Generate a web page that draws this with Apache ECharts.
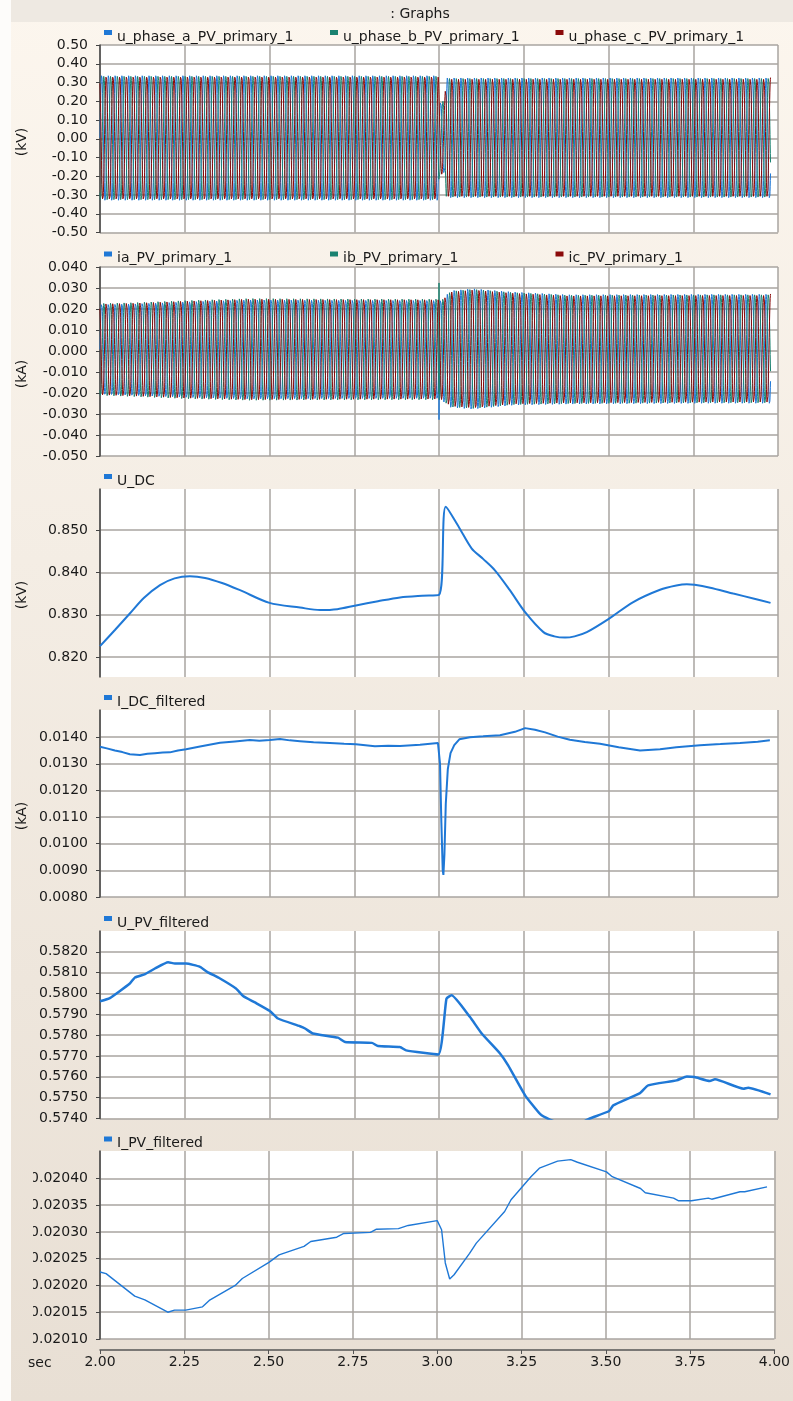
<!DOCTYPE html>
<html>
<head>
<meta charset="utf-8">
<script src="https://cdn.jsdelivr.net/npm/echarts@6/dist/echarts.min.js"></script>
<style>
  html, body { margin: 0; padding: 0; background: #f4ede4; }
  #chart { width: 793px; height: 1401px; }
</style>
</head>
<body>
<div id="chart"></div>
<script>
// ---------------- time axis ----------------
const T_START = 2.0, T_END = 4.0, T_STEP = 0.25;

// ---------------- three-phase voltage (kV): peak envelope ----------------
const F_GRID = 50;          // Hz
const SAMPLE_DT = 0.0005;   // s
const WAVE_END = 3.978;     // s, last recorded sample
const uEnvTime  = [2.000, 2.500, 2.998, 3.002, 3.016, 3.022, 3.500, 3.978];
const uEnvUpper = [0.340, 0.340, 0.340, 0.200, 0.200, 0.328, 0.328, 0.328];
const uEnvLower = [-0.332, -0.332, -0.332, -0.190, -0.190, -0.318, -0.318, -0.318];

// ---------------- three-phase current (kA): peak envelope ----------------
const iEnvTime  = [2.00, 2.10, 2.25, 2.44, 2.70, 2.998, 3.010, 3.035, 3.10, 3.22, 3.38, 3.60, 3.80, 3.978];
const iEnvUpper = [0.0231, 0.0235, 0.0245, 0.0255, 0.0253, 0.0252, 0.0250, 0.0290, 0.0300, 0.0284, 0.0271, 0.0272, 0.0273, 0.0273];
const iEnvLower = [-0.0216, -0.0222, -0.0232, -0.0240, -0.0238, -0.0237, -0.0240, -0.0272, -0.0280, -0.0261, -0.0256, -0.0254, -0.0252, -0.0252];
// switching transient at t = 3.0 s
const iaSpike = [[3.0, -0.0327]];
const ibSpike = [[3.0, 0.0324]];

// ---------------- U_DC (kV) ----------------
const udcTime  = [2.000, 2.044, 2.088, 2.130, 2.177, 2.220, 2.265, 2.310, 2.360, 2.413, 2.500, 2.590, 2.649, 2.700, 2.755, 2.820, 2.885, 2.950, 3.000,
                  3.020, 3.060, 3.096, 3.130, 3.165, 3.209, 3.254, 3.308, 3.340, 3.372, 3.400, 3.436, 3.502, 3.573, 3.652, 3.700, 3.731, 3.754, 3.800, 3.868, 3.930, 3.978];
const udcValue = [0.8226, 0.8264, 0.8303, 0.8340, 0.8370, 0.8386, 0.8391, 0.8387, 0.8375, 0.8358, 0.8328, 0.8317, 0.8311, 0.8313, 0.8322, 0.8332, 0.8341, 0.8345, 0.8347,
                  0.8555, 0.8505, 0.8457, 0.8432, 0.8405, 0.8358, 0.8306, 0.8259, 0.8249, 0.8246, 0.8249, 0.8259, 0.8291, 0.8330, 0.8359, 0.8369, 0.8372, 0.8371, 0.8364, 0.8350, 0.8338, 0.8328];

// ---------------- I_DC_filtered (kA) ----------------
const idcTime  = [2.000, 2.020, 2.044, 2.066, 2.088, 2.118, 2.140, 2.162, 2.185, 2.206, 2.230, 2.254, 2.295, 2.354, 2.398, 2.442, 2.470, 2.501, 2.531, 2.560, 2.590, 2.630, 2.678, 2.720, 2.755, 2.811, 2.850, 2.885, 2.944, 2.997,
                  3.000, 3.003, 3.007, 3.011, 3.013, 3.016, 3.020, 3.026, 3.034, 3.045, 3.060, 3.091, 3.130, 3.180, 3.224, 3.254, 3.283, 3.313, 3.350, 3.386, 3.430, 3.475, 3.530, 3.593, 3.652, 3.700, 3.770, 3.830, 3.888, 3.940, 3.976];
const idcValue = [0.01364, 0.01358, 0.01350, 0.01344, 0.01336, 0.01333, 0.01338, 0.01340, 0.01342, 0.01343, 0.01350, 0.01355, 0.01365, 0.01379, 0.01384, 0.01389, 0.01387, 0.01389, 0.01393, 0.01388, 0.01385, 0.01381, 0.01378, 0.01375, 0.01373, 0.01366, 0.01368, 0.01367, 0.01372, 0.01378,
                  0.01378, 0.01300, 0.01080, 0.00900, 0.00883, 0.00960, 0.01150, 0.01280, 0.01340, 0.01370, 0.01392, 0.01400, 0.01403, 0.01407, 0.01420, 0.01434, 0.01428, 0.01418, 0.01402, 0.01390, 0.01382, 0.01375, 0.01362, 0.01350, 0.01355, 0.01362, 0.01370, 0.01374, 0.01378, 0.01383, 0.01388];

// ---------------- U_PV_filtered (kV) ----------------
const upvTime  = [2.000, 2.029, 2.088, 2.103, 2.133, 2.162, 2.201, 2.221, 2.254, 2.295, 2.316, 2.354, 2.401, 2.422, 2.457, 2.501, 2.525, 2.590, 2.605, 2.628, 2.702, 2.723, 2.802, 2.820, 2.885, 2.903, 2.998,
                  3.022, 3.037, 3.091, 3.126, 3.180, 3.204, 3.254, 3.298, 3.327, 3.370, 3.420, 3.445, 3.502, 3.514, 3.593, 3.617, 3.701, 3.731, 3.754, 3.799, 3.814, 3.898, 3.912, 3.978];
const upvValue = [0.57963, 0.57978, 0.58048, 0.58077, 0.58093, 0.58120, 0.58150, 0.58144, 0.58144, 0.58128, 0.58104, 0.58072, 0.58024, 0.57988, 0.57957, 0.57916, 0.57880, 0.57843, 0.57832, 0.57808, 0.57788, 0.57767, 0.57763, 0.57748, 0.57743, 0.57727, 0.57707,
                  0.57975, 0.57992, 0.57888, 0.57808, 0.57712, 0.57655, 0.57511, 0.57422, 0.57395, 0.57370, 0.57380, 0.57400, 0.57436, 0.57463, 0.57522, 0.57559, 0.57583, 0.57602, 0.57599, 0.57580, 0.57588, 0.57543, 0.57548, 0.57516];

// ---------------- I_PV_filtered (kA) ----------------
const ipvTime  = [2.000, 2.018, 2.103, 2.133, 2.201, 2.221, 2.254, 2.304, 2.324, 2.401, 2.422, 2.501, 2.531, 2.605, 2.625, 2.702, 2.723, 2.802, 2.820, 2.885, 2.914, 3.000,
                  3.013, 3.024, 3.037, 3.050, 3.096, 3.116, 3.200, 3.219, 3.278, 3.303, 3.357, 3.396, 3.416, 3.502, 3.519, 3.603, 3.617, 3.701, 3.716, 3.754, 3.804, 3.814, 3.898, 3.912, 3.978];
const ipvValue = [0.020225, 0.020222, 0.020180, 0.020173, 0.020150, 0.020154, 0.020154, 0.020160, 0.020172, 0.020200, 0.020213, 0.020243, 0.020257, 0.020273, 0.020282, 0.020290, 0.020297, 0.020299, 0.020305, 0.020306, 0.020312, 0.020321,
                  0.020304, 0.020242, 0.020212, 0.020220, 0.020260, 0.020279, 0.020338, 0.020360, 0.020403, 0.020419, 0.020432, 0.020435, 0.020430, 0.020412, 0.020403, 0.020381, 0.020373, 0.020363, 0.020358, 0.020358, 0.020363, 0.020361, 0.020375, 0.020375, 0.020384];

// ---------------- value-axis tick labels ----------------
const yTicksU   = [-0.50, -0.40, -0.30, -0.20, -0.10, 0.00, 0.10, 0.20, 0.30, 0.40, 0.50];
const yTicksI   = [-0.050, -0.040, -0.030, -0.020, -0.010, 0.000, 0.010, 0.020, 0.030, 0.040];
const yTicksUdc = [0.820, 0.830, 0.840, 0.850];
const yTicksIdc = [0.0080, 0.0090, 0.0100, 0.0110, 0.0120, 0.0130, 0.0140];
const yTicksUpv = [0.5740, 0.5750, 0.5760, 0.5770, 0.5780, 0.5790, 0.5800, 0.5810, 0.5820];
const yTicksIpv = [0.02010, 0.02015, 0.02020, 0.02025, 0.02030, 0.02035, 0.02040];

// ---------------- helpers ----------------
function pairs(ts, vs) { return ts.map((t, i) => [t, vs[i]]); }

function envelopeAt(ts, vs, t) {
  if (t <= ts[0]) return vs[0];
  for (let i = 1; i < ts.length; i++) {
    if (t <= ts[i]) {
      const f = (t - ts[i - 1]) / (ts[i] - ts[i - 1]);
      return vs[i - 1] + f * (vs[i] - vs[i - 1]);
    }
  }
  return vs[vs.length - 1];
}

// 50 Hz phase waveform carried inside its measured peak envelope
function phaseWave(envT, envHi, envLo, shiftDeg, extra) {
  const pts = [];
  const n = Math.round((WAVE_END - T_START) / SAMPLE_DT);
  for (let k = 0; k <= n; k++) {
    const t = T_START + k * SAMPLE_DT;
    const hi = envelopeAt(envT, envHi, t), lo = envelopeAt(envT, envLo, t);
    const mid = (hi + lo) / 2, half = (hi - lo) / 2;
    pts.push([t, mid + half * Math.sin(2 * Math.PI * F_GRID * t + shiftDeg * Math.PI / 180)]);
  }
  if (extra) { extra.forEach(p => pts.push(p)); pts.sort((a, b) => a[0] - b[0]); }
  return pts;
}

// ---------------- styling ----------------
const FONT = 'DejaVu Sans';
const TEXT = '#1a1a1a';
const GRID_LINE = { color: '#a9a5a0', width: 1.5 };
const BLUE = '#1f78d6', GREEN = '#1a8270', RED = '#8b0a0a';

const panels = [
  { top: 45,   height: 187.5, min: -0.5,     max: 0.5,      ticks: yTicksU,   dec: 2 },
  { top: 267,  height: 189,   min: -0.05,    max: 0.04,     ticks: yTicksI,   dec: 3 },
  { top: 489,  height: 188,   min: 0.8153,   max: 0.8597,   ticks: yTicksUdc, dec: 3 },
  { top: 710,  height: 187,   min: 0.0080,   max: 0.01502,  ticks: yTicksIdc, dec: 4 },
  { top: 931,  height: 187.5, min: 0.5740,   max: 0.5830,   ticks: yTicksUpv, dec: 4 },
  { top: 1151, height: 188,   min: 0.02010,  max: 0.020451, ticks: yTicksIpv, dec: 5 }
];

const grid = panels.map(p => ({
  left: 100, width: 678, top: p.top, height: p.height,
  show: true, backgroundColor: '#ffffff', borderWidth: 0
}));

const xAxis = panels.map((p, i) => {
  const last = i === panels.length - 1;
  return {
    type: 'value', gridIndex: i, min: T_START, max: T_END, interval: T_STEP,
    offset: last ? 11 : 0,
    axisLine: { show: last, onZero: false, lineStyle: { color: '#555', width: 1.5 } },
    axisTick: { show: last, length: 4, lineStyle: { color: '#555' } },
    axisLabel: { show: last, margin: 5, color: TEXT, fontFamily: FONT, fontSize: 14,
                 formatter: v => v.toFixed(2) },
    splitLine: { show: true, lineStyle: GRID_LINE }
  };
});

const yAxis = panels.map((p, i) => ({
  type: 'value', gridIndex: i, min: p.min, max: p.max, scale: true,
  axisLine: { show: true, lineStyle: { color: '#444', width: 1.5 } },
  axisTick: { show: true, length: 4, customValues: p.ticks, lineStyle: { color: '#444' } },
  axisLabel: { customValues: p.ticks, margin: 12, color: TEXT, fontFamily: FONT, fontSize: 14,
               formatter: v => v.toFixed(p.dec) },
  splitLine: { show: true, lineStyle: GRID_LINE }
}));

function lineSeries(name, idx, data, color, width, smooth) {
  return {
    name, type: 'line', xAxisIndex: idx, yAxisIndex: idx, data,
    showSymbol: false, symbol: 'none', animation: false, clip: true,
    smooth: smooth || false,
    color, itemStyle: { color },
    lineStyle: { color, width }
  };
}

const series = [
  lineSeries('u_phase_a_PV_primary_1', 0, phaseWave(uEnvTime, uEnvUpper, uEnvLower, 0), BLUE, 1),
  lineSeries('u_phase_b_PV_primary_1', 0, phaseWave(uEnvTime, uEnvUpper, uEnvLower, -120), GREEN, 1),
  lineSeries('u_phase_c_PV_primary_1', 0, phaseWave(uEnvTime, uEnvUpper, uEnvLower, 120), RED, 1),
  lineSeries('ia_PV_primary_1', 1, phaseWave(iEnvTime, iEnvUpper, iEnvLower, 0, iaSpike), BLUE, 1),
  lineSeries('ib_PV_primary_1', 1, phaseWave(iEnvTime, iEnvUpper, iEnvLower, -120, ibSpike), GREEN, 1),
  lineSeries('ic_PV_primary_1', 1, phaseWave(iEnvTime, iEnvUpper, iEnvLower, 120), RED, 1),
  lineSeries('U_DC', 2, pairs(udcTime, udcValue), BLUE, 2, 0.3),
  lineSeries('I_DC_filtered', 3, pairs(idcTime, idcValue), BLUE, 2),
  lineSeries('U_PV_filtered', 4, pairs(upvTime, upvValue), BLUE, 2.5, 0.15),
  lineSeries('I_PV_filtered', 5, pairs(ipvTime, ipvValue), BLUE, 1.4)
];

// one legend entry per trace, placed above its panel
const legendSpots = [
  ['u_phase_a_PV_primary_1', 104, 30], ['u_phase_b_PV_primary_1', 330, 30], ['u_phase_c_PV_primary_1', 555.5, 30],
  ['ia_PV_primary_1', 104, 251.5], ['ib_PV_primary_1', 330, 251.5], ['ic_PV_primary_1', 555.5, 251.5],
  ['U_DC', 104, 474], ['I_DC_filtered', 104, 695], ['U_PV_filtered', 104, 916], ['I_PV_filtered', 104, 1136.5]
];
const legend = legendSpots.map(([name, x, y]) => ({
  data: [name], left: x, top: y, padding: 0, selectedMode: false,
  icon: 'path://M0,0H8V5H0Z M0,14', itemWidth: 8, itemHeight: 14,
  itemStyle: { borderWidth: 0 },
  textStyle: { color: TEXT, fontFamily: FONT, fontSize: 14 }
}));

const pageGradient = {
  type: 'linear', x: 0, y: 0, x2: 0, y2: 1401, global: true,
  colorStops: [{ offset: 0, color: '#fcf6ee' }, { offset: 0.4, color: '#f4ede4' }, { offset: 1, color: '#e8dfd4' }]
};

const unitText = (txt, y) => ({
  type: 'text', x: 22, y, rotation: Math.PI / 2,
  style: { text: txt, fill: TEXT, font: '14px "DejaVu Sans"', align: 'center', verticalAlign: 'middle' }
});

const graphic = [
  { type: 'rect', shape: { x: 11, y: 0, width: 782, height: 22 }, style: { fill: '#eee9e2' }, z: -1 },
  { type: 'rect', shape: { x: 0, y: 0, width: 11, height: 1401 }, style: { fill: '#fdfcfa' }, z: 100 },
  { type: 'rect', shape: { x: 11, y: 1140, width: 22, height: 210 }, style: { fill: pageGradient }, z: 100 },
  { type: 'text', x: 420, y: 14, style: { text: ': Graphs', fill: TEXT, font: '14px "DejaVu Sans"', align: 'center', verticalAlign: 'middle' } },
  { type: 'text', x: 28, y: 1363, style: { text: 'sec', fill: TEXT, font: '14px "DejaVu Sans"', align: 'left', verticalAlign: 'middle' } },
  unitText('(kV)', 142), unitText('(kA)', 374), unitText('(kV)', 595), unitText('(kA)', 816)
];

const chart = echarts.init(document.getElementById('chart'), null, { renderer: 'canvas' });
chart.setOption({
  backgroundColor: pageGradient,
  animation: false,
  textStyle: { fontFamily: FONT },
  grid, xAxis, yAxis, series, legend, graphic
});
</script>
</body>
</html>
